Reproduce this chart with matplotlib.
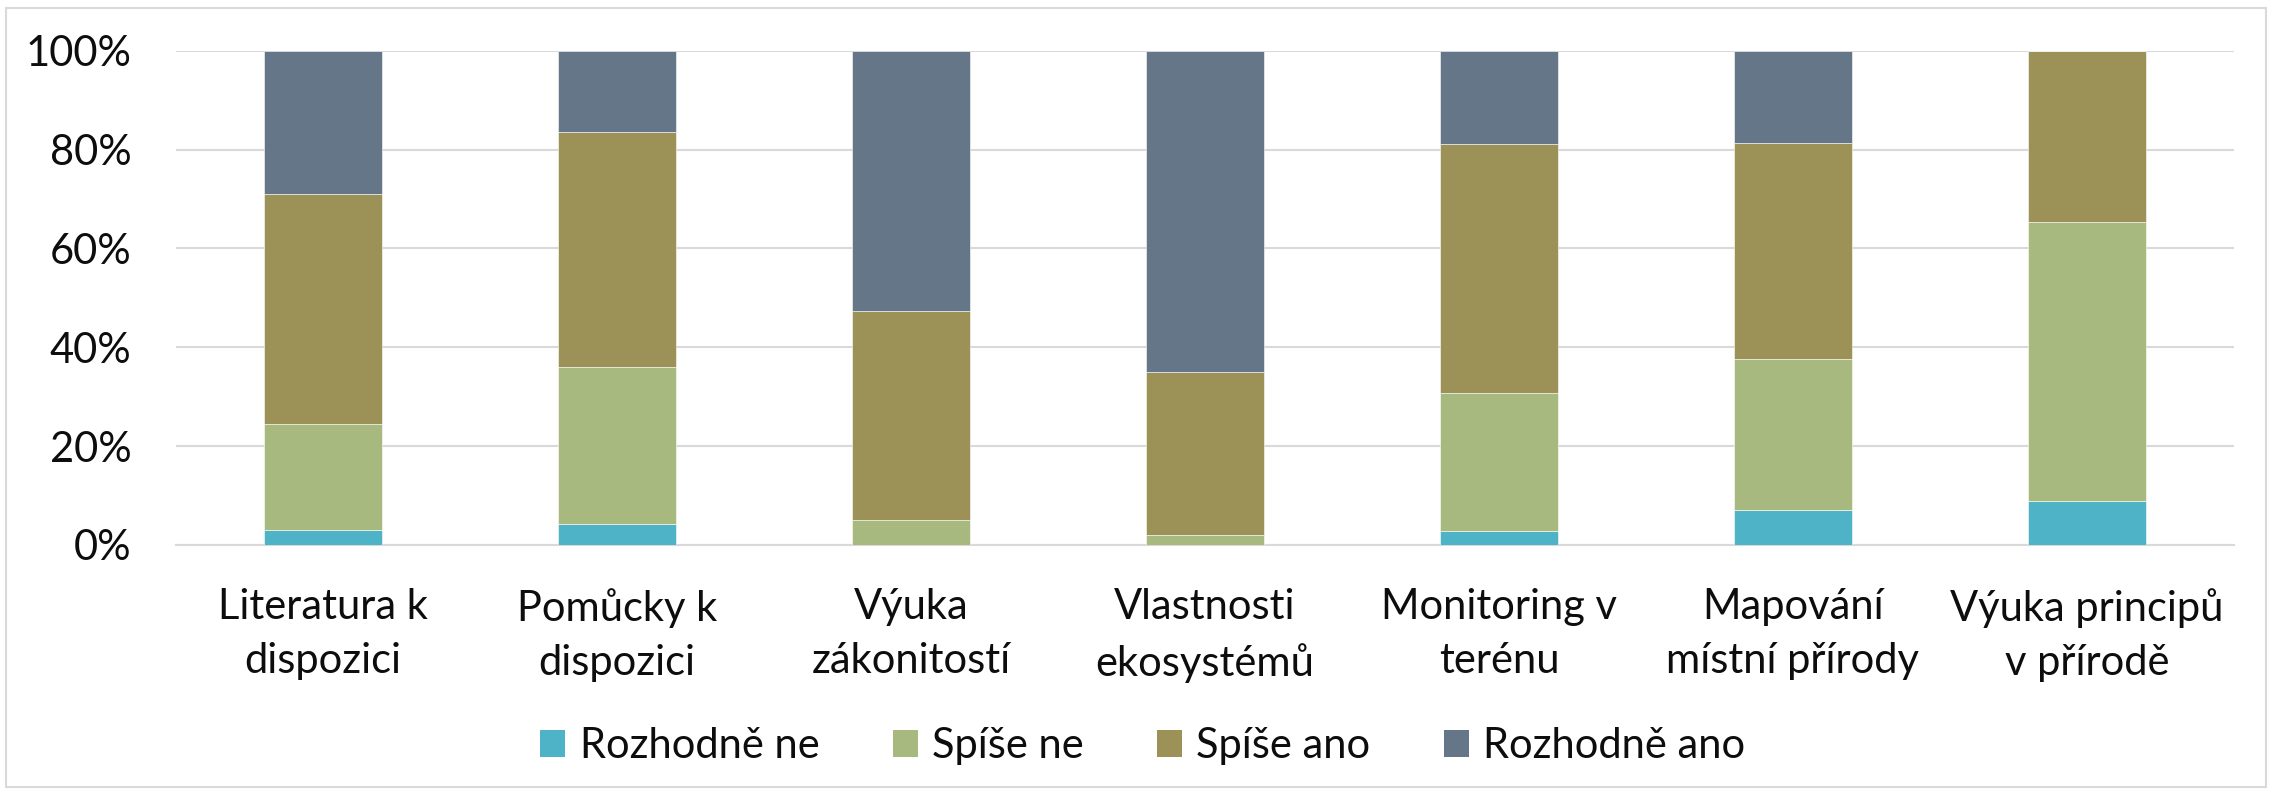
import matplotlib
matplotlib.use("Agg")
import matplotlib.pyplot as plt
from matplotlib.patches import Rectangle, Patch
import numpy as np

categories = ["Literatura k\ndispozici", "Pomůcky k\ndispozici", "Výuka\nzákonitostí",
              "Vlastnosti\nekosystémů", "Monitoring v\nterénu", "Mapování\nmístní přírody",
              "Výuka principů\nv přírodě"]
series_names = ["Rozhodně ne", "Spíše ne", "Spíše ano", "Rozhodně ano"]
rozhodne_ne = [3.1, 4.3, 0.0, 0.0, 2.9, 7.0, 8.9]
spise_ne = [21.3, 31.7, 5.0, 2.1, 27.8, 30.7, 56.4]
spise_ano = [46.6, 47.5, 42.4, 32.9, 50.4, 43.6, 34.7]
rozhodne_ano = [29.0, 16.5, 52.6, 65.0, 18.9, 18.7, 0.0]
colors = ["#4FB3C8", "#A8B980", "#9C9157", "#657688"]
yticks = [0, 20, 40, 60, 80, 100]
ytick_labels = ["0%", "20%", "40%", "60%", "80%", "100%"]

plt.rcParams['font.family'] = ['Lato', 'DejaVu Sans']
FS = 30
TXT = '#0D0D0D'

fig = plt.figure(figsize=(22.72, 7.95), dpi=100)
ax = fig.add_axes([176/2272, 1-545/795, (2234-176)/2272, (545-50.7)/795])

x = np.arange(len(categories))
bottom = np.zeros(len(categories))
for name, vals, c in zip(series_names, [rozhodne_ne, spise_ne, spise_ano, rozhodne_ano], colors):
    v = np.array(vals)
    ax.bar(x, v, bottom=bottom, width=0.40, color=c, edgecolor='white', linewidth=0.4,
           label=name, zorder=3)
    bottom += v

ax.set_xlim(-0.5, len(categories) - 0.5)
ax.set_ylim(0, 100)
ax.set_yticks(yticks)
ax.set_yticklabels(ytick_labels, fontsize=FS, color=TXT)
ax.set_xticks(x)
ax.set_xticklabels(categories, fontsize=FS, color=TXT, linespacing=1.52)
ax.tick_params(axis='both', length=0)
ax.tick_params(axis='y', pad=32)
ax.tick_params(axis='x', pad=31)
ax.grid(axis='y', color='#D9D9D9', linewidth=1.5, zorder=0)
for s in ['top', 'right', 'left']:
    ax.spines[s].set_visible(False)
ax.spines['bottom'].set_color('#D9D9D9')
ax.spines['bottom'].set_linewidth(1.5)

handles = [Patch(facecolor=c, edgecolor='none') for c in colors]
leg = fig.legend(handles, series_names, loc='center', bbox_to_anchor=(0.503, 1-746/795),
                 ncol=4, frameon=False, handlelength=0.6, handleheight=0.6,
                 handletextpad=0.35, columnspacing=1.75, prop={'size': FS})
for t in leg.get_texts():
    t.set_color(TXT)

fig.patches.append(Rectangle((6/2272, 8/795), 1-12/2272, 1-16/795, transform=fig.transFigure,
                             fill=False, edgecolor='#D9D9D9', linewidth=1.5))

fig.savefig("out.png", dpi=100, facecolor='white')
